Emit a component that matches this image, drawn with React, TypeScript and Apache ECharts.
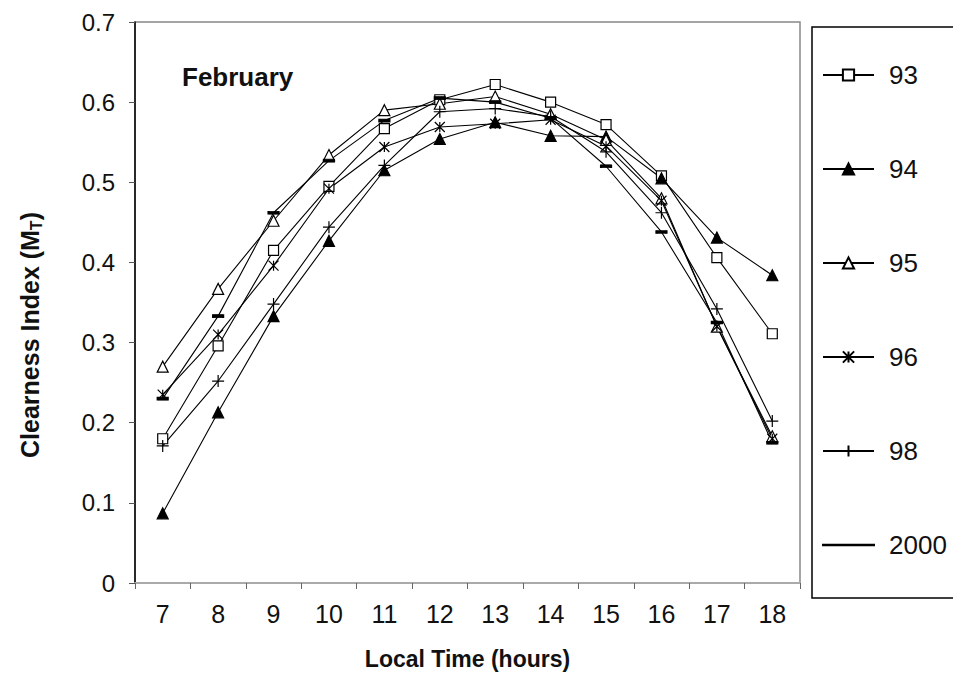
import React, { useEffect, useRef } from "react";
import * as echarts from "echarts";

const hours = ["7", "8", "9", "10", "11", "12", "13", "14", "15", "16", "17", "18"];
const yearNames = ["93", "94", "95", "96", "98", "2000"];
const s93 = [0.18, 0.296, 0.415, 0.495, 0.567, 0.603, 0.622, 0.6, 0.572, 0.508, 0.406, 0.311];
const s94 = [0.087, 0.213, 0.333, 0.427, 0.515, 0.554, 0.575, 0.558, 0.557, 0.505, 0.431, 0.384];
const s95 = [0.27, 0.367, 0.452, 0.534, 0.59, 0.598, 0.607, 0.585, 0.553, 0.48, 0.32, 0.183];
const s96 = [0.235, 0.31, 0.396, 0.492, 0.544, 0.569, 0.573, 0.578, 0.545, 0.477, 0.32, 0.18];
const s98 = [0.171, 0.252, 0.348, 0.444, 0.521, 0.588, 0.592, 0.582, 0.538, 0.462, 0.342, 0.202];
const s2000 = [0.23, 0.333, 0.462, 0.527, 0.577, 0.605, 0.6, 0.58, 0.52, 0.438, 0.325, 0.175];
const yTicks = [0, 0.1, 0.2, 0.3, 0.4, 0.5, 0.6, 0.7];

const FONT = "'Liberation Sans', Arial, sans-serif";

export default function App() {
  const ref = useRef<HTMLDivElement>(null);
  useEffect(() => {
    if (!ref.current) return;
    const chart = echarts.init(ref.current, null, { renderer: "svg" });
    const lineStyle = { color: "#000", width: 1.1 };
    const mk = (name: string, data: number[], symbol: string, size: any, fill: string) => ({
      name,
      type: "line",
      data,
      symbol,
      symbolSize: size,
      showAllSymbol: true,
      lineStyle,
      itemStyle: { color: fill, borderColor: "#000", borderWidth: 1.2 },
      emphasis: { disabled: true },
    });
    const allSeries = [
      mk(yearNames[0], s93, "rect", 10, "#fff"),
      mk(yearNames[1], s94, "triangle", 11, "#000"),
      mk(yearNames[2], s95, "triangle", 11, "#fff"),
      mk(yearNames[3], s96, "path://M0,0 L10,10 M10,0 L0,10 M5,0 L5,10", 10, "#000"),
      mk(yearNames[4], s98, "path://M5,0 L5,10 M0,5 L10,5", 12, "#000"),
      mk(yearNames[5], s2000, "rect", [10, 3], "#000"),
    ];
    chart.setOption({
      animation: false,
      backgroundColor: "#fff",
      textStyle: { fontFamily: FONT },
      grid: {
        left: 135,
        right: 153,
        top: 22,
        bottom: 96,
        show: true,
        borderColor: "#888",
        borderWidth: 1.5,
      },
      xAxis: {
        type: "category",
        data: hours,
        boundaryGap: true,
        axisLine: { lineStyle: { color: "#aaa", width: 2 } },
        axisTick: { show: true, length: 6, lineStyle: { color: "#666" } },
        axisLabel: { fontSize: 25, color: "#111", margin: 18, fontFamily: FONT },
        name: "Local Time (hours)",
        nameLocation: "middle",
        nameGap: 64,
        nameTextStyle: { fontSize: 23, fontWeight: "bold", color: "#111", fontFamily: FONT },
      },
      yAxis: {
        type: "value",
        min: yTicks[0],
        max: yTicks[yTicks.length - 1],
        interval: 0.1,
        splitLine: { show: false },
        axisLine: { show: true, lineStyle: { color: "#000", width: 1.5 } },
        axisTick: { show: true, length: 6, lineStyle: { color: "#555" } },
        axisLabel: {
          fontSize: 24,
          color: "#111",
          margin: 20,
          fontFamily: FONT,
          formatter: (v: number) => (v === 0 ? "0" : v.toFixed(1)),
        },
      },
      legend: {
        orient: "vertical",
        left: 817,
        top: 57,
        itemWidth: 51,
        itemHeight: 14,
        itemGap: 68,
        selectedMode: false,
        textStyle: { fontSize: 26, color: "#111", fontFamily: FONT, padding: [0, 0, 0, 10], lineHeight: 26 },
        data: [
          yearNames[0],
          yearNames[1],
          yearNames[2],
          yearNames[3],
          yearNames[4],
          { name: yearNames[5], icon: "path://M0,0 L200,0 L200,2 L0,2 Z" },
        ],
      },
      graphic: [
        {
          type: "rect",
          shape: { x: 812, y: 27, width: 200, height: 571 },
          style: { fill: "none", stroke: "#000", lineWidth: 1.5 },
          z: 0,
        },
        {
          type: "text",
          x: 182,
          y: 77,
          style: {
            text: "February",
            font: `bold 26px ${FONT}`,
            fill: "#111",
            verticalAlign: "middle",
          },
        },
        {
          type: "text",
          x: 30,
          y: 335,
          rotation: Math.PI / 2,
          style: {
            text: "{a|Clearness Index (M}{s|T}{a|)}",
            align: "center",
            verticalAlign: "middle",
            rich: {
              a: { font: `bold 25px ${FONT}`, fill: "#111" },
              s: { font: `bold 16px ${FONT}`, fill: "#111", padding: [13, 0, 0, 0] },
            },
          },
        },
      ],
      series: allSeries,
    });
    return () => chart.dispose();
  }, []);
  return (
    <div
      ref={ref}
      style={{ position: "fixed", left: 0, top: 0, width: 953, height: 679, background: "#fff" }}
    />
  );
}
